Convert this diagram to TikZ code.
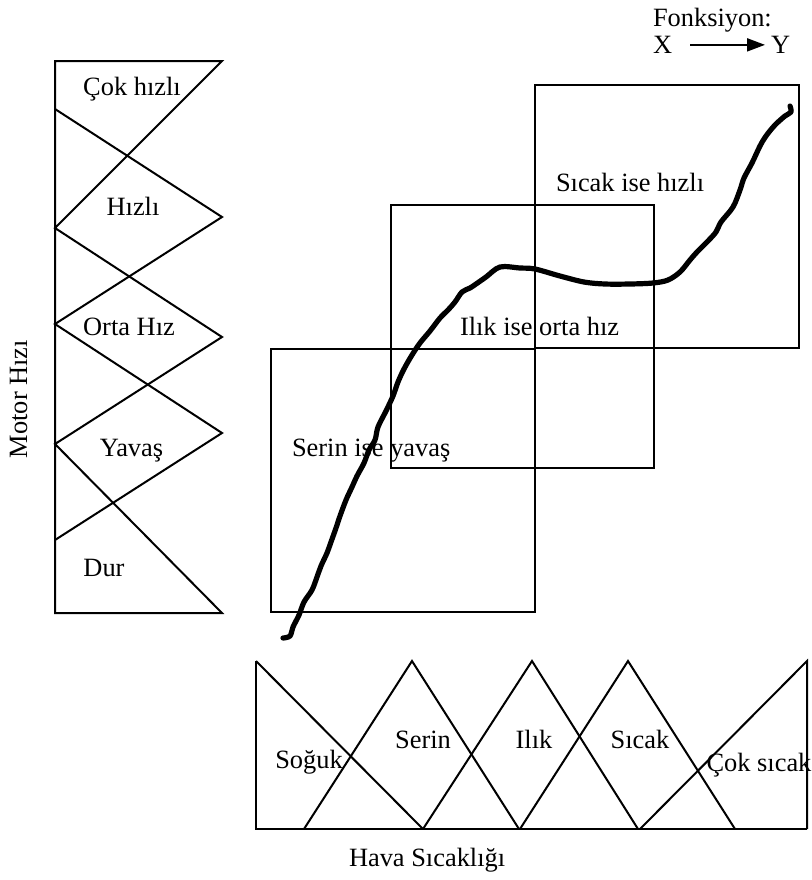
\documentclass[tikz,border=0pt]{standalone}
\usepackage{fontspec}
\setmainfont{Liberation Serif}
\usetikzlibrary{arrows.meta}

\tikzset{
  lbl/.style={inner sep=0pt, anchor=base, font=\fontsize{13.2}{16}\selectfont},
  rulelbl/.style={lbl, anchor=base west},
}

\begin{document}
\begin{tikzpicture}[x=0.5pt, y=-0.5pt, line width=1pt]

\useasboundingbox (0,0) rectangle (812,880);

% motor speed sets
\draw (55,61) -- (222,61) -- (55,228) -- (222,337) -- (55,444) -- (222,613) -- (55,613) -- cycle;
\draw (55,109) -- (222,217) -- (55,324) -- (222,433) -- (55,540);

\node[lbl] (cokhizli) at (132,95) {Çok hızlı};
\node[lbl] (hizli) at (133,215.5) {Hızlı};
\node[lbl] (orta) at (129,335.5) {Orta Hız};
\node[lbl] (yavas) at (131.5,456.5) {Yavaş};
\node[lbl] (dur) at (104,576.5) {Dur};
\node[lbl, rotate=90] (motor) at (27,399) {Motor Hızı};

% temperature sets
\draw (256,661) -- (423,829);
\draw (304,829) -- (412,661) -- (519,829);
\draw (423,829) -- (532,661) -- (638,829);
\draw (520,829) -- (628,661) -- (735,829);
\draw (640,829) -- (807,661) -- (807,829);
\draw (256,661) -- (256,829) -- (807,829);

\node[lbl] (soguk) at (309,768) {Soğuk};
\node[lbl] (serin) at (423,748) {Serin};
\node[lbl] (ilik) at (534,748) {Ilık};
\node[lbl] (sicak) at (640,748) {Sıcak};
\node[lbl] (coksicak) at (759,771.5) {Çok sıcak};
\node[rulelbl] (hava) at (348,866.5) {Hava Sıcaklığı};

% rule patches
\draw (271,349) rectangle (535,612);
\draw (391,205) rectangle (654,468);
\draw (535,85) rectangle (799,348);

\node[rulelbl] (kural1) at (291,456) {Serin ise yavaş};
\node[rulelbl] (kural2) at (459,335.5) {Ilık ise orta hız};
\node[rulelbl] (kural3) at (555,191.5) {Sıcak ise hızlı};

% the curve through the patches
\draw[line width=2.6pt, line cap=round, line join=round]
  plot[smooth, tension=0.55] coordinates {
    (283,638) (290,636) (293,627) (299,615) (304,602) (312,590) (317,577)
    (321,566) (327,553) (331,542) (336,528) (340,516) (346,500) (352,487)
    (357,476) (364,463) (369,450) (375,440) (378,427) (386,411) (393,396)
    (398,382) (404,369) (412,355) (420,343) (430,331) (440,318) (448,310)
    (455,302) (462,292) (470,288) (476,284) (486,277) (500,267) (520,268)
    (535,269) (560,276) (584,282) (605,284) (630,284) (653,283) (668,280)
    (680,272) (690,260) (697,252) (707,242) (716,232) (721,222) (733,207)
    (740,190) (744,178) (752,163) (760,146) (766,136) (775,125) (785,116)
    (791,112) (790,106)};

% mapping legend
\node[rulelbl] (fonk) at (652,26) {Fonksiyon:};
\node[rulelbl] (x) at (652,53.5) {X};
\node[rulelbl] (y) at (770,53.5) {Y};
\draw[-{Triangle[length=9pt, width=6.5pt]}, shorten <=8.5pt, shorten >=2.5pt] (x) -- (y);

\end{tikzpicture}
\end{document}
